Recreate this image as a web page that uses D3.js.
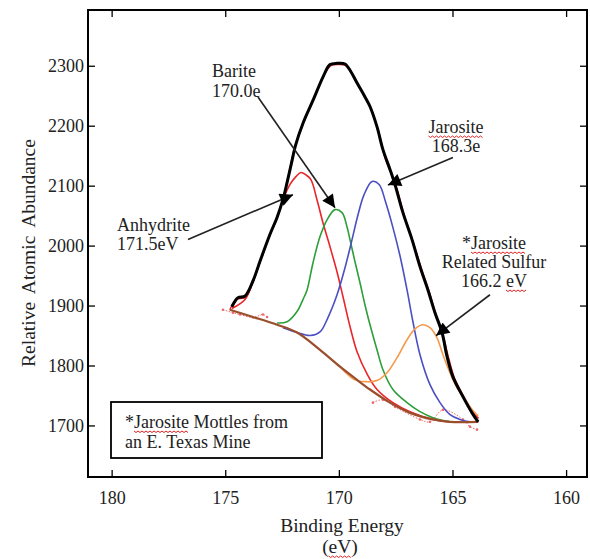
<!DOCTYPE html>
<html>
<head>
<meta charset="utf-8">
<script src="https://cdn.jsdelivr.net/npm/d3@7"></script>
<style>
  body { margin: 0; background: #fff; }
  svg { display: block; font-family: "Liberation Serif", "DejaVu Serif", serif; }
</style>
</head>
<body>
<svg id="chart" width="590" height="559"></svg>
<script>
// values: [binding energy eV, abundance]
const envelope = [[174.71,1898],[174.44,1913],[174.13,1916],[173.78,1941],[173.47,1974],[173.03,2019],[172.72,2047],[172.46,2077],[172.28,2105],[172.1,2135],[171.9,2168],[171.57,2205],[171.13,2243],[170.69,2282],[170.39,2302],[170.08,2304],[169.73,2303],[169.47,2290],[169.21,2272],[168.85,2248],[168.63,2232],[168.32,2198],[168.06,2160],[167.75,2127],[167.53,2102],[167.18,2055],[166.78,2010],[166.43,1965],[166.08,1926],[165.77,1888],[165.46,1855],[165.24,1815],[164.98,1781],[164.54,1748],[164.14,1721],[163.87,1706]];
const measured = [[174.8,1893],[174.5,1910],[174.1,1914],[173.75,1942],[173.4,1980],[173.0,2022],[172.65,2054],[172.3,2102],[171.95,2163],[171.5,2210],[171.1,2245],[170.7,2280],[170.35,2300],[170.0,2302],[169.7,2300],[169.4,2286],[169.15,2268],[168.8,2245],[168.55,2225],[168.25,2190],[168.0,2150],[167.7,2120],[167.45,2095],[167.1,2048],[166.7,2002],[166.35,1960],[166.0,1920],[165.7,1882],[165.4,1848],[165.15,1810],[164.9,1778],[164.45,1745],[164.1,1722],[163.85,1712]];
const background = [[174.8,1893],[173.78,1881],[172.72,1868],[171.84,1855],[170.83,1826],[169.95,1798],[169.2,1776],[168.63,1760],[167.75,1738],[166.87,1721],[165.86,1710],[165.11,1706],[163.87,1706]];
const anhydrite = [[174.71,1895],[174.13,1910],[173.78,1940],[173.47,1973],[173.03,2018],[172.72,2046],[172.46,2076],[172.15,2102],[171.89,2115],[171.67,2122],[171.45,2118],[171.23,2110],[170.96,2076],[170.7,2038],[170.39,1998],[170.08,1956],[169.82,1915],[169.51,1865],[169.2,1823],[168.76,1786],[168.32,1760],[167.62,1738],[166.87,1723],[165.86,1710],[165.11,1706],[163.87,1706]];
const barite = [[172.72,1871],[172.28,1873],[171.84,1890],[171.58,1910],[171.4,1926],[171.14,1971],[170.83,2015],[170.52,2043],[170.17,2060],[169.86,2055],[169.64,2031],[169.51,2010],[169.29,1973],[169.07,1938],[168.85,1901],[168.63,1868],[168.32,1826],[168.06,1793],[167.62,1760],[167.0,1738],[166.43,1723],[165.86,1713],[165.11,1706]];
const jarosite = [[172.46,1863],[171.84,1855],[171.27,1850],[170.83,1856],[170.48,1880],[170.08,1918],[169.73,1963],[169.42,2010],[169.16,2051],[168.89,2085],[168.54,2107],[168.23,2102],[167.93,2071],[167.62,2030],[167.31,1983],[167.0,1926],[166.74,1873],[166.43,1818],[165.99,1768],[165.55,1738],[165.11,1718],[164.67,1710],[164.23,1706],[163.87,1706]];
const sulfur = [[169.95,1798],[169.29,1776],[168.76,1773],[168.32,1775],[167.88,1788],[167.44,1813],[167.0,1843],[166.65,1861],[166.3,1868],[165.99,1863],[165.68,1846],[165.42,1818],[165.11,1788],[164.8,1763],[164.36,1738],[164.01,1721],[163.87,1716]];
const bgPoints = [[175.1,1893],[174.66,1888],[174.35,1885],[173.78,1880],[173.34,1885],[173.16,1881],[168.5,1738],[168.06,1743],[167.53,1731],[166.43,1710],[165.99,1706],[165.42,1726],[164.54,1710],[164.23,1698],[163.92,1693]];

const xTicks = [180, 175, 170, 165, 160];
const yTicks = [1700, 1800, 1900, 2000, 2100, 2200, 2300];

const svg = d3.select("#chart");
const mLeft = 88, mRight = 587, mTop = 10, mBottom = 477;
const serif = "'Liberation Serif', 'DejaVu Serif', serif";

const x = d3.scaleLinear().domain([181.04, 159.08]).range([mLeft, mRight]);
const y = d3.scaleLinear().domain([1614, 2393]).range([mBottom, mTop]);

// axes, ticks pointing inward on all four sides
const gx = svg.append("g").attr("transform", `translate(0,${mBottom})`)
  .call(d3.axisBottom(x).tickValues(xTicks).tickSizeInner(-7).tickSizeOuter(0).tickPadding(14));
const gxt = svg.append("g").attr("transform", `translate(0,${mTop})`)
  .call(d3.axisTop(x).tickValues(xTicks).tickSizeInner(-7).tickSizeOuter(0).tickFormat(""));
const gy = svg.append("g").attr("transform", `translate(${mLeft},0)`)
  .call(d3.axisLeft(y).tickValues(yTicks).tickFormat(d3.format("d")).tickSizeInner(-7).tickSizeOuter(0).tickPadding(4));
const gyr = svg.append("g").attr("transform", `translate(${mRight},0)`)
  .call(d3.axisRight(y).tickValues(yTicks).tickSizeInner(-7).tickSizeOuter(0).tickFormat(""));

[gx, gxt, gy, gyr].forEach(g => {
  g.attr("font-family", serif);
  g.select(".domain").remove();
  g.selectAll("line").attr("stroke", "#000").attr("stroke-width", 1.3);
  g.selectAll("text").attr("font-size", 18).attr("fill", "#222");
});
gy.selectAll("text").attr("dy", "0.33em");

svg.append("rect")
  .attr("x", mLeft).attr("y", mTop)
  .attr("width", mRight - mLeft).attr("height", mBottom - mTop)
  .attr("fill", "none").attr("stroke", "#000").attr("stroke-width", 2);

// axis titles
svg.append("text").attr("x", 342).attr("y", 532).attr("text-anchor", "middle")
  .attr("font-size", 19.5).attr("fill", "#222").text("Binding Energy");
const evTitle = svg.append("text").attr("x", 340).attr("y", 553).attr("text-anchor", "middle")
  .attr("font-size", 19.5).attr("fill", "#222").text("(eV)");
svg.append("text").attr("transform", "translate(35,253) rotate(-90)").attr("text-anchor", "middle")
  .attr("font-size", 19.5).attr("fill", "#222").attr("word-spacing", 4).text("Relative Atomic Abundance");

const line = d3.line().x(d => x(d[0])).y(d => y(d[1])).curve(d3.curveCatmullRom.alpha(0.5));

const plot = svg.append("g");

plot.append("path").attr("d", line(measured)).attr("fill", "none")
  .attr("stroke", "#e8262a").attr("stroke-width", 1.4);

plot.append("path").attr("d", line(bgPoints.slice(0, 6))).attr("fill", "none")
  .attr("stroke", "#f0686a").attr("stroke-width", 1).attr("stroke-dasharray", "1.5,1.5");
plot.append("path").attr("d", line(bgPoints.slice(6))).attr("fill", "none")
  .attr("stroke", "#f0686a").attr("stroke-width", 1).attr("stroke-dasharray", "1.5,1.5");
plot.selectAll(".pt").data(bgPoints).join("circle")
  .attr("cx", d => x(d[0])).attr("cy", d => y(d[1])).attr("r", 1.3)
  .attr("fill", "#f0686a");

const comps = [
  { data: anhydrite, color: "#e8262a" },
  { data: barite, color: "#2e9e3a" },
  { data: jarosite, color: "#4b4fc2" },
  { data: sulfur, color: "#f59a4c" }
];
comps.forEach(c => {
  plot.append("path").attr("d", line(c.data)).attr("fill", "none")
    .attr("stroke", c.color).attr("stroke-width", 1.6);
});

plot.append("path").attr("d", line(background)).attr("fill", "none")
  .attr("stroke", "#9a4e2c").attr("stroke-width", 2.2);

plot.append("path").attr("d", line(envelope)).attr("fill", "none")
  .attr("stroke", "#000").attr("stroke-width", 3).attr("stroke-linejoin", "round");

// arrows
svg.append("defs").append("marker")
  .attr("id", "head").attr("viewBox", "0 0 10 10").attr("refX", 10).attr("refY", 5)
  .attr("markerUnits", "userSpaceOnUse").attr("markerWidth", 15).attr("markerHeight", 13)
  .attr("orient", "auto")
  .append("path").attr("d", "M0,0 L10,5 L0,10 Z").attr("fill", "#000");

const arrows = [
  { from: [173.56, 2248], to: [170.17, 2063] },
  { from: [176.64, 2010], to: [172.02, 2085] },
  { from: [164.98, 2147], to: [167.84, 2101] },
  { from: [163.35, 1918], to: [165.72, 1850] }
];
svg.selectAll(".arrow").data(arrows).join("line")
  .attr("x1", d => x(d.from[0])).attr("y1", d => y(d.from[1]))
  .attr("x2", d => x(d.to[0])).attr("y2", d => y(d.to[1]))
  .attr("stroke", "#222").attr("stroke-width", 1.6).attr("marker-end", "url(#head)");

// text labels
function label(lines, px, py, anchor, lh) {
  return lines.map((t, i) => svg.append("text")
    .attr("x", px).attr("y", py + i * lh).attr("text-anchor", anchor)
    .attr("font-size", 18).attr("fill", "#222").text(t));
}
label(["Barite", "170.0e"], 212, 77, "start", 20);
label(["Anhydrite", "171.5eV"], 117, 231, "start", 19);
const jar = label(["Jarosite", "168.3e"], 456, 133, "middle", 19);
const rel = label(["*Jarosite", "Related Sulfur", "166.2 eV"], 494, 249, "middle", 19);

svg.append("rect").attr("x", 111).attr("y", 402).attr("width", 211).attr("height", 56)
  .attr("fill", "#fff").attr("stroke", "#000").attr("stroke-width", 1.8);
const leg = label(["*Jarosite Mottles from", "an E. Texas Mine"], 125, 428, "start", 20);

// red spell-check squiggles under some words
function squiggle(t, from, to) {
  const node = t.node();
  const bb = node.getBBox();
  const x0 = bb.x + (from > 0 ? node.getSubStringLength(0, from) : 0);
  const x1 = bb.x + node.getSubStringLength(0, to);
  const yb = +t.attr("y") + 3;
  const pts = d3.range(x0, x1, 2).map((v, i) => [v, yb + (i % 2 ? 1.5 : 0)]);
  svg.append("path").attr("d", d3.line()(pts)).attr("fill", "none")
    .attr("stroke", "#e02020").attr("stroke-width", 1);
}
squiggle(jar[0], 0, 8);
squiggle(rel[0], 1, 9);
squiggle(rel[2], 6, 8);
squiggle(leg[0], 1, 9);
squiggle(evTitle, 1, 3);
</script>
</body>
</html>
